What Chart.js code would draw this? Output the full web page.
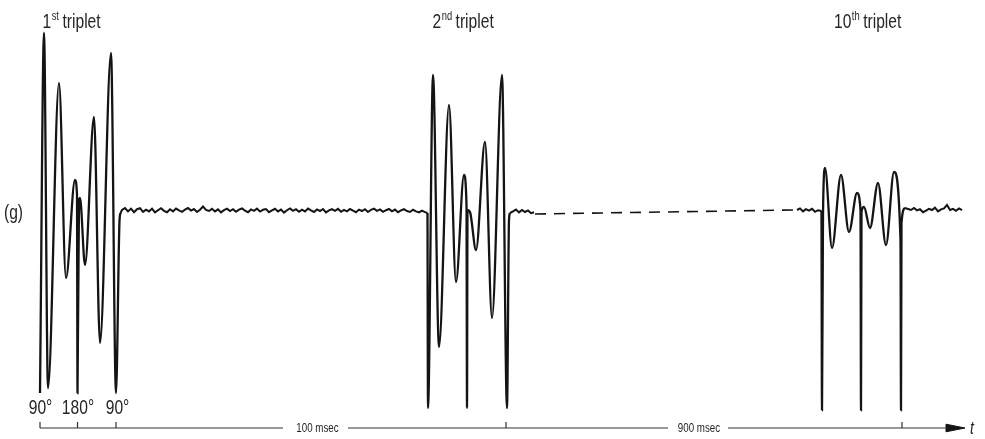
<!DOCTYPE html>
<html>
<head>
<meta charset="utf-8">
<script src="https://cdn.jsdelivr.net/npm/chart.js@4"></script>
<style>
  html, body { margin: 0; padding: 0; background: #ffffff; }
  #wrap { width: 985px; height: 439px; position: relative; }
</style>
</head>
<body>
<div id="wrap"><canvas id="c" width="985" height="439"></canvas></div>
<script>
// ---------------- DATA ----------------
// x : position along the (broken) time axis, arbitrary display units
// y : signal amplitude, baseline = 0

// 1st triplet echo/pulse trace [x, y]
const triplet1 = [
  [4.0, -0.91], [4.4, 0.89], [4.8, -0.885], [5.9, 0.64], [6.6, -0.335],
  [7.5, 0.155], [7.7, 0.08], [7.75, -0.91], [7.9, 0.055], [8.0, 0.065],
  [8.5, -0.27], [9.4, 0.47], [10.0, -0.66], [11.1, 0.79], [11.6, -0.91],
  [11.95, -0.05], [12.05, -0.01]
];
// 2nd triplet trace [x, y]
const triplet2 = [
  [42.75, -0.01], [42.8, -0.985], [43.3, 0.68], [43.9, -0.68], [44.9, 0.53],
  [45.6, -0.355], [46.4, 0.18], [46.65, 0.03], [46.7, -0.985], [46.75, 0.005],
  [47.0, -0.005], [47.6, -0.195], [48.5, 0.345], [49.2, -0.535], [50.2, 0.68],
  [50.7, -0.985], [50.9, -0.045], [51.0, -0.01]
];
// 10th triplet trace [x, y]
const triplet10 = [
  [82.15, 0.0], [82.2, -0.995], [82.3, -0.02], [82.5, 0.215], [83.2, -0.185],
  [84.1, 0.18], [84.9, -0.105], [85.7, 0.09], [86.05, 0.005], [86.1, -0.995],
  [86.15, -0.005], [86.4, 0.02], [87.0, -0.085], [87.8, 0.14], [88.6, -0.17],
  [89.4, 0.195], [90.05, -0.145], [90.1, -0.995], [90.15, -0.06], [90.5, 0.015]
];

// baseline noise, sampled every 0.3 units
const noiseStep = 0.3;
const noiseA_start = 12.2;   // after 1st triplet up to 2nd triplet
const noiseA = [
  0.005, 0.015, -0.002, 0.012, -0.006, 0.009, 0.014, -0.004, 0.007, -0.002,
  0.012, -0.007, 0.004, 0.014, 0.001, -0.006, 0.009, -0.002, 0.012, 0.003,
  -0.004, 0.007, 0.015, 0.002, 0.010, -0.005, 0.006, 0.022, 0.005, 0.000,
  0.011, -0.002, 0.008, -0.007, 0.004, 0.012, 0.000, 0.009, -0.004, 0.007,
  0.013, 0.002, -0.006, 0.008, 0.001, 0.012, -0.003, 0.006, 0.010, -0.006,
  0.003, 0.011, -0.002, 0.007, -0.008, 0.004, 0.013, 0.001, 0.009, -0.004,
  0.007, -0.002, 0.012, 0.003, -0.005, 0.008, 0.000, 0.010, -0.007, 0.003,
  0.009, 0.001, 0.011, -0.004, 0.006, -0.002, 0.010, 0.002, -0.006, 0.007,
  0.000, 0.009, -0.005, 0.006, 0.012, 0.001, 0.008, -0.004, 0.004, 0.010,
  -0.002, 0.007, -0.006, 0.003, 0.009, 0.000, -0.005, 0.006, -0.002, -0.007,
  0.002, -0.006
];
const noiseB_start = 51.3;   // after 2nd triplet
const noiseB = [-0.002, 0.007, -0.007, 0.005, -0.005, 0.003, -0.011, -0.006];
const noiseC_start = 79.7;   // before 10th triplet
const noiseC = [0.005, 0.013, -0.002, 0.009, 0.002, 0.011, -0.004, 0.004];
const noiseD_start = 90.8;   // after 10th triplet
const noiseD = [
  0.010, 0.005, 0.015, 0.003, 0.009, -0.006, 0.002, 0.011, 0.005, 0.017,
  -0.002, 0.008, 0.013, 0.030, 0.005, 0.011, 0.001, 0.013, 0.004
];

// dashed bridge between 2nd and 10th triplet (time axis break)
const bridge = [[53.5, -0.015], [79.3, 0.005]];

// time axis
const axisY = -1.085;
const axisSegments = [[4.0, 28.3], [34.8, 66.8], [72.8, 94.7]];
const axisTicks = [4.0, 7.75, 11.6, 50.6, 90.2];
const axisLabels = ['100 msec', '900 msec'];
const axisLabelX = [31.75, 69.9];

// labels
const tripletNums = ['1', '2', '10'];
const tripletSups = ['st', 'nd', 'th'];
const tripletLabelX = [4.25, 43.25, 83.4];
const pulseLabels = ['90°', '180°', '90°'];
const pulseLabelX = [4.05, 7.8, 11.75];

// ---------------- BUILD ----------------
const pts = arr => arr.map(p => ({ x: p[0], y: p[1] }));
const sampled = (x0, vals) => vals.map((v, i) => ({ x: +(x0 + i * noiseStep).toFixed(3), y: v }));
const first = arr => ({ x: arr[0][0], y: arr[0][1] });
const last = arr => ({ x: arr[arr.length - 1][0], y: arr[arr.length - 1][1] });

const noise1 = [last(triplet1)].concat(sampled(noiseA_start, noiseA), [first(triplet2)]);
const noise2 = [last(triplet2)].concat(sampled(noiseB_start, noiseB));
const noise3 = sampled(noiseC_start, noiseC).concat([first(triplet10)]);
const noise4 = [last(triplet10)].concat(sampled(noiseD_start, noiseD));

const axisData = [];
axisSegments.forEach(s => {
  axisData.push({ x: s[0], y: axisY }, { x: s[1], y: axisY }, { x: s[1] + 0.01, y: null });
});
const tickData = [];
axisTicks.forEach(t => {
  tickData.push({ x: t, y: axisY + 0.03 }, { x: t + 0.001, y: axisY }, { x: t + 0.002, y: null });
});
const arrowTip = 96.5;
const arrowData = [
  { x: 94.6, y: axisY + 0.019 }, { x: arrowTip, y: axisY }, { x: 94.6, y: axisY - 0.019 }, { x: 94.6, y: axisY + 0.019 }
];

const INK = '#141414';
const FONT = '"Liberation Sans", Arial, sans-serif';
const SQUEEZE = 0.78;   // condensed lettering of the original figure

function condensedText(ctx, text, x, y, size, align, style) {
  ctx.font = (style ? style + ' ' : '') + size + 'px ' + FONT;
  const w = ctx.measureText(text).width * SQUEEZE;
  let left = x;
  if (align === 'center') left = x - w / 2;
  ctx.save();
  ctx.translate(left, y);
  ctx.scale(SQUEEZE, 1);
  ctx.textAlign = 'left';
  ctx.fillText(text, 0, 0);
  ctx.restore();
  return w;
}

const textPlugin = {
  id: 'texts',
  afterDraw(chart) {
    const ctx = chart.ctx;
    const xs = chart.scales.x, ys = chart.scales.y;
    ctx.save();
    ctx.fillStyle = '#262626';
    ctx.textBaseline = 'alphabetic';
    // triplet titles with superscripts
    const titleY = ys.getPixelForValue(0.915);
    tripletNums.forEach((n, i) => {
      let x = xs.getPixelForValue(tripletLabelX[i]);
      x += condensedText(ctx, n, x, titleY, 20) + 0.5;
      x += condensedText(ctx, tripletSups[i], x, titleY - 8, 12) + 3.5;
      condensedText(ctx, 'triplet', x, titleY, 20);
    });
    // (g)
    ctx.textBaseline = 'middle';
    condensedText(ctx, '(g)', xs.getPixelForValue(0.4), ys.getPixelForValue(-0.01), 20);
    // pulse angle labels
    ctx.textBaseline = 'alphabetic';
    const pulseY = ys.getPixelForValue(-1.015);
    pulseLabels.forEach((l, i) => condensedText(ctx, l, xs.getPixelForValue(pulseLabelX[i]), pulseY, 20, 'center'));
    // axis labels
    ctx.textBaseline = 'middle';
    axisLabels.forEach((l, i) => condensedText(ctx, l, xs.getPixelForValue(axisLabelX[i]), ys.getPixelForValue(axisY) + 1, 12.5, 'center'));
    // t
    condensedText(ctx, 't', xs.getPixelForValue(97.0), ys.getPixelForValue(axisY) + 1, 18, 'left', 'italic');
    ctx.restore();
  }
};

const osc = d => ({ data: d, borderColor: INK, borderWidth: 2.3, cubicInterpolationMode: 'monotone', pointRadius: 0, fill: false });
const rough = d => ({ data: d, borderColor: INK, borderWidth: 2, tension: 0, pointRadius: 0, fill: false });

new Chart(document.getElementById('c'), {
  type: 'line',
  data: {
    datasets: [
      osc(pts(triplet1)), rough(noise1), osc(pts(triplet2)), rough(noise2),
      rough(noise3), osc(pts(triplet10)), rough(noise4),
      { data: pts(bridge), borderColor: INK, borderWidth: 1.6, borderDash: [11, 8], tension: 0, pointRadius: 0, fill: false },
      { data: axisData, borderColor: '#333333', borderWidth: 1.2, tension: 0, pointRadius: 0, spanGaps: false, fill: false },
      { data: tickData, borderColor: '#333333', borderWidth: 1.2, tension: 0, pointRadius: 0, spanGaps: false, fill: false },
      { data: arrowData, borderColor: INK, backgroundColor: INK, borderWidth: 1, tension: 0, pointRadius: 0, fill: 'shape' }
    ]
  },
  options: {
    responsive: false,
    animation: false,
    devicePixelRatio: 1,
    layout: { padding: 0 },
    scales: {
      x: { type: 'linear', min: 0, max: 98.5, display: false },
      y: { type: 'linear', min: -1.14, max: 1.055, display: false }
    },
    plugins: { legend: { display: false }, tooltip: { enabled: false } }
  },
  plugins: [textPlugin]
});
</script>
</body>
</html>
